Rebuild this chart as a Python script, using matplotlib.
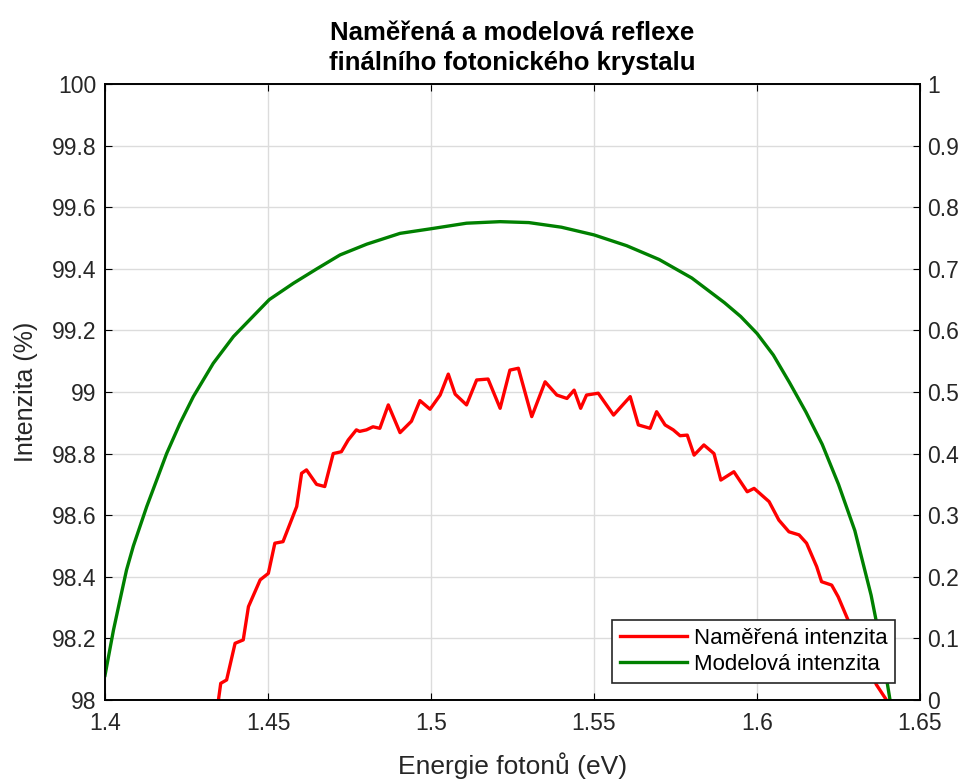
import matplotlib.pyplot as plt
import numpy as np

plt.rcParams['font.family'] = ['Liberation Sans', 'DejaVu Sans']

# measured reflectance (red)
mer_x = [1.4348, 1.4355, 1.4373, 1.4399, 1.4424, 1.4440, 1.4476, 1.4501, 1.4521, 1.4546,
         1.4588, 1.4603, 1.4618, 1.4649, 1.4674, 1.4700, 1.4725, 1.4746, 1.4771, 1.4781,
         1.4802, 1.4822, 1.4843, 1.4869, 1.4905, 1.4940, 1.4966, 1.4997, 1.5028, 1.5053,
         1.5074, 1.5109, 1.5140, 1.5175, 1.5212, 1.5242, 1.5268, 1.5309, 1.5350, 1.5386,
         1.5417, 1.5439, 1.5459, 1.5477, 1.5513, 1.5560, 1.5611, 1.5636, 1.5672, 1.5692,
         1.5718, 1.5743, 1.5764, 1.5786, 1.5807, 1.5837, 1.5868, 1.5889, 1.5929, 1.5970,
         1.5991, 1.6037, 1.6067, 1.6098, 1.6129, 1.6152, 1.6183, 1.6198, 1.6229, 1.6249,
         1.6275, 1.6320, 1.6366, 1.6397]
mer_y = [98.00, 98.054, 98.065, 98.184, 98.195, 98.303, 98.39, 98.411, 98.509, 98.514,
         98.628, 98.736, 98.747, 98.700, 98.693, 98.80, 98.806, 98.844, 98.877, 98.872,
         98.877, 98.887, 98.882, 98.958, 98.868, 98.905, 98.972, 98.944, 98.99, 99.058,
         98.993, 98.958, 99.039, 99.042, 98.947, 99.071, 99.077, 98.92, 99.033, 98.99,
         98.979, 99.006, 98.947, 98.99, 98.996, 98.925, 98.985, 98.893, 98.882, 98.936,
         98.893, 98.877, 98.858, 98.86, 98.795, 98.828, 98.80, 98.714, 98.741, 98.676,
         98.687, 98.644, 98.584, 98.546, 98.536, 98.509, 98.433, 98.384, 98.373, 98.335,
         98.27, 98.16, 98.05, 98.00]

# model reflectance (green)
mod_x = [1.4, 1.4026, 1.4046, 1.4066, 1.4087, 1.4128, 1.4189, 1.4230, 1.4271, 1.4332,
         1.4394, 1.4448, 1.4504, 1.4578, 1.4650, 1.4721, 1.4803, 1.4905, 1.5, 1.5109,
         1.5212, 1.53, 1.54, 1.55, 1.56, 1.57, 1.58, 1.59, 1.595, 1.6,
         1.605, 1.61, 1.615, 1.62, 1.625, 1.63, 1.635, 1.638, 1.6408]
mod_y = [98.08, 98.227, 98.325, 98.422, 98.50, 98.628, 98.80, 98.898, 98.985, 99.093,
         99.18, 99.239, 99.30, 99.353, 99.40, 99.445, 99.48, 99.515, 99.53, 99.548,
         99.553, 99.55, 99.535, 99.51, 99.475, 99.43, 99.37, 99.29, 99.245, 99.19,
         99.12, 99.03, 98.935, 98.83, 98.70, 98.55, 98.34, 98.18, 98.0]

xticks = [1.4, 1.45, 1.5, 1.55, 1.6, 1.65]
xticklabels = ['1.4', '1.45', '1.5', '1.55', '1.6', '1.65']
yticks = [98, 98.2, 98.4, 98.6, 98.8, 99, 99.2, 99.4, 99.6, 99.8, 100]
yticklabels = ['98', '98.2', '98.4', '98.6', '98.8', '99', '99.2', '99.4', '99.6', '99.8', '100']
y2ticks = [0, 0.1, 0.2, 0.3, 0.4, 0.5, 0.6, 0.7, 0.8, 0.9, 1]
y2ticklabels = ['0', '0.1', '0.2', '0.3', '0.4', '0.5', '0.6', '0.7', '0.8', '0.9', '1']

fig = plt.figure(figsize=(9.66, 7.82), dpi=100)
ax = fig.add_axes([0.1087, 0.1049, 0.8437, 0.7877])

ax.plot(mer_x, mer_y, color='#ff0000', lw=2.4, label='Naměřená intenzita')
ax.plot(mod_x, mod_y, color='#008000', lw=2.4, label='Modelová intenzita')

ax.set_xlim(1.4, 1.65)
ax.set_ylim(98, 100)
ax.set_xticks(xticks)
ax.set_xticklabels(xticklabels)
ax.set_yticks(yticks)
ax.set_yticklabels(yticklabels)
ax.grid(True, color='#dcdcdc', lw=1)
ax.tick_params(direction='in', length=5, labelsize=16.5, top=True, pad=6,
               labelcolor='#262626')
ax.tick_params(axis='x', pad=9)

ax2 = ax.twinx()
ax2.set_ylim(0, 1)
ax2.set_yticks(y2ticks)
ax2.set_yticklabels(y2ticklabels)
ax2.tick_params(direction='in', length=5, labelsize=16.5, pad=5, labelcolor='#262626')

for a in (ax, ax2):
    for s in a.spines.values():
        s.set_linewidth(1.2)

ax.set_xlabel('Energie fotonů (eV)', fontsize=19, color='#262626', labelpad=12)
ax.set_ylabel('Intenzita (%)', fontsize=18, color='#262626', labelpad=10)
ax.set_title('Naměřená a modelová reflexe\nfinálního fotonického krystalu',
             fontsize=18.5, fontweight='bold', linespacing=1.3, pad=10)

leg = ax.legend(loc='lower right', bbox_to_anchor=(0.9693, 0.0276), borderaxespad=0,
                fontsize=16, fancybox=False, framealpha=1, edgecolor='#262626',
                handlelength=3.0, handletextpad=0.3, labelspacing=0.25,
                borderpad=0.35)
leg.get_frame().set_linewidth(1.2)

fig.savefig('out.png', dpi=100)
